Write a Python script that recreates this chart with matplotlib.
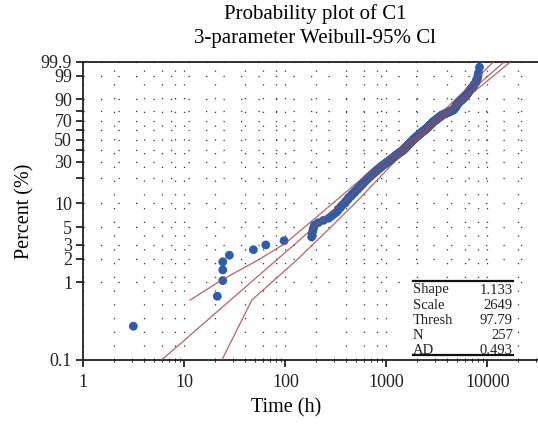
import numpy as np
import matplotlib
matplotlib.use("Agg")
import matplotlib.pyplot as plt
from matplotlib.ticker import FixedLocator, NullLocator, NullFormatter
from matplotlib.patches import Rectangle

# fitted 3-parameter Weibull (from the stats box)
shape = 1.133
scale = 2649
thresh = 97.79
n_obs = 257
ad_stat = 0.493

# ordered data (time - threshold)
times = [
    3.13, 21.2, 24.0, 24.0, 24.0, 27.9, 48.2, 64, 97, 182,
    184, 187, 190, 194, 212, 238, 268, 285, 300, 318,
    330, 334, 352, 358, 371, 390, 392, 405, 419, 421,
    437, 452, 455, 471, 486, 489, 503, 520, 522, 537,
    552, 555, 570, 583, 586, 601, 616, 619, 633, 650,
    652, 668, 685, 688, 704, 721, 724, 742, 760, 762,
    781, 800, 803, 821, 840, 843, 862, 882, 885, 906,
    926, 930, 952, 972, 976, 1001, 1022, 1026, 1052, 1075,
    1080, 1103, 1124, 1128, 1150, 1170, 1175, 1198, 1220, 1225,
    1249, 1272, 1276, 1302, 1325, 1330, 1357, 1382, 1387, 1415,
    1440, 1445, 1475, 1482, 1506, 1510, 1528, 1548, 1552, 1569,
    1590, 1594, 1611, 1632, 1636, 1655, 1676, 1680, 1699, 1720,
    1724, 1745, 1767, 1771, 1792, 1814, 1818, 1840, 1862, 1867,
    1890, 1912, 1917, 1943, 1970, 1975, 2001, 2028, 2033, 2061,
    2090, 2095, 2123, 2150, 2156, 2187, 2215, 2221, 2252, 2281,
    2287, 2320, 2350, 2356, 2390, 2420, 2426, 2462, 2494, 2500,
    2533, 2560, 2565, 2597, 2627, 2632, 2663, 2694, 2700, 2731,
    2762, 2768, 2800, 2832, 2838, 2871, 2903, 2910, 2951, 2990,
    2996, 3048, 3090, 3097, 3147, 3190, 3198, 3250, 3295, 3303,
    3357, 3402, 3410, 3467, 3512, 3520, 3613, 3700, 3710, 3842,
    3935, 3945, 4080, 4175, 4185, 4330, 4430, 4440, 4600, 4640,
    4648, 4696, 4740, 4748, 4794, 4840, 4848, 4894, 4940, 4950,
    4996, 5045, 5055, 5100, 5180, 5195, 5311, 5395, 5410, 5532,
    5620, 5635, 5761, 5850, 5865, 6000, 6090, 6105, 6237, 6330,
    6345, 6483, 6580, 6595, 6740, 6890, 6905, 7130, 7290, 7310,
    7550, 7720, 7740, 7950, 8050, 8150, 8340,
]

# 95% confidence bounds
upper_pct = [0.59, 1.07, 1.93, 3.14, 10, 18.8, 50, 80, 95, 99.9]
upper_time = [11.4, 23.5, 54, 100, 297, 549, 1785, 3650, 6000, 11380]
lower_pct = [0.1, 0.59, 1.93, 5, 11.5, 30, 50, 80, 95, 99.9]
lower_time = [23.5, 46.5, 130, 281, 549, 1200, 2054, 4365, 7700, 16800]

fit_pct = [0.1, 99.9]

ytick_vals = [0.1, 1, 2, 3, 5, 10, 20, 30, 40, 50, 60, 70, 80, 90, 99, 99.9]
ytick_labels = ['0.1', '1', '2', '3', '5', '10', '', '30', '', '50', '', '70', '', '90', '99', '99.9']
xtick_vals = [1, 10, 100, 1000, 10000]
xtick_labels = ['1', '10', '100', '1000', '10000']


def weib_fwd(p):
    p = np.clip(np.asarray(p, dtype=float), 1e-6, 100 - 1e-6)
    return np.log(-np.log(1 - p / 100.0))


def weib_inv(z):
    return 100.0 * (1 - np.exp(-np.exp(z)))


def main():
    plt.rcParams['font.family'] = ['Liberation Serif', 'DejaVu Serif']

    fig = plt.figure(figsize=(5.38, 4.24), dpi=100)
    ax = fig.add_axes([83.3 / 538, 64 / 424, 454.7 / 538, 298 / 424])

    ax.set_xscale('log')
    ax.set_yscale('function', functions=(weib_fwd, weib_inv))
    ax.set_xlim(1, 10 ** 4.5)
    ax.set_ylim(0.1, 99.9)

    n = len(times)
    ranks = np.arange(1, n + 1)
    pct = (ranks - 0.3) / (n + 0.4) * 100

    fit_time = [scale * (-np.log(1 - p / 100)) ** (1 / shape) for p in fit_pct]

    line_col = '#a9484a'
    ax.scatter(times, pct, s=40, color='#2c5daa', edgecolors='none', zorder=3)
    ax.plot(fit_time, fit_pct, color=line_col, lw=0.9, alpha=0.85, zorder=4)
    ax.plot(upper_time, upper_pct, color=line_col, lw=0.9, alpha=0.85, zorder=4)
    ax.plot(lower_time, lower_pct, color=line_col, lw=0.9, alpha=0.85, zorder=4)

    # ticks
    ax.yaxis.set_major_locator(FixedLocator(ytick_vals))
    ax.set_yticklabels(ytick_labels)
    ax.yaxis.set_minor_locator(NullLocator())
    ax.xaxis.set_major_locator(FixedLocator(xtick_vals))
    ax.set_xticklabels(xtick_labels)
    minor_x = [m * 10 ** d for d in range(0, 5) for m in range(2, 10)]
    ax.xaxis.set_minor_locator(FixedLocator(minor_x))
    ax.xaxis.set_minor_formatter(NullFormatter())

    ax.tick_params(axis='both', which='major', direction='out', length=5, width=1.3,
                   labelsize=13, colors='#222222')
    ax.tick_params(axis='x', which='major', pad=5)
    ax.tick_params(axis='y', which='major', pad=3)
    ax.tick_params(axis='x', which='minor', direction='inout', length=3, width=0.7,
                   colors='#222222')

    # dotted grid: horizontal rows at the percent ticks, vertical at 2,4,6,8 per decade
    ax.grid(True, which='major', axis='y', color='#333333', lw=0.9, linestyle=(0, (1, 13)))
    grid_x = [m * 10 ** d for d in range(0, 5) for m in (1, 2, 4, 6, 8)]
    for gx in grid_x:
        ax.axvline(gx, color='#333333', lw=0.9, linestyle=(0, (1, 10)), zorder=0.5)
    ax.set_axisbelow(True)

    for side in ['left', 'bottom', 'top']:
        ax.spines[side].set_linewidth(1.3)
        ax.spines[side].set_color('#222222')
    ax.spines['right'].set_visible(False)

    ax.set_xlabel('Time (h)', fontsize=14.5, va='center')
    ax.set_ylabel('Percent (%)', fontsize=14.5, va='center')
    ax.xaxis.set_label_coords((286 - 83.3) / 454.7, (360 - 408) / 298)
    ax.yaxis.set_label_coords((25 - 83.3) / 454.7, 0.5)

    fig.text(315 / 538, 1 - 14 / 424, 'Probability plot of C1', ha='center', va='center', fontsize=15)
    fig.text(315 / 538, 1 - 39 / 424, '3-parameter Weibull-95% Cl', ha='center', va='center', fontsize=15)

    # stats box
    bx0 = (413 - 83.3) / 454.7
    bx1 = (513 - 83.3) / 454.7
    by_top = (360 - 280.7) / 298
    by_bot = (360 - 355) / 298
    ax.add_patch(Rectangle((bx0, by_bot), bx1 - bx0, by_top - by_bot, transform=ax.transAxes,
                           facecolor='white', edgecolor='none', zorder=5))
    ax.plot([bx0, bx1], [by_top, by_top], transform=ax.transAxes, color='#111111', lw=1.6,
            zorder=6, clip_on=False)
    ax.plot([bx0, bx1], [by_bot, by_bot], transform=ax.transAxes, color='#111111', lw=1.6,
            zorder=6, clip_on=False)
    stat_names = ['Shape', 'Scale', 'Thresh', 'N', 'AD']
    stat_vals = [f'{shape:.3f}', f'{scale}', f'{thresh:.2f}', f'{n_obs}', f'{ad_stat:.3f}']
    baselines = [293.5, 308.7, 323.9, 339.1, 354.3]
    for name, val, bl in zip(stat_names, stat_vals, baselines):
        yy = (360 - bl) / 298
        ax.text(bx0, yy, name, transform=ax.transAxes, ha='left', va='baseline',
                fontsize=10.5, color='#222222', zorder=7)
        ax.text(bx1, yy, val, transform=ax.transAxes, ha='right', va='baseline',
                fontsize=10.5, color='#222222', zorder=7)

    fig.savefig('out.png', dpi=100)
    plt.close(fig)


if __name__ == "__main__":
    main()
